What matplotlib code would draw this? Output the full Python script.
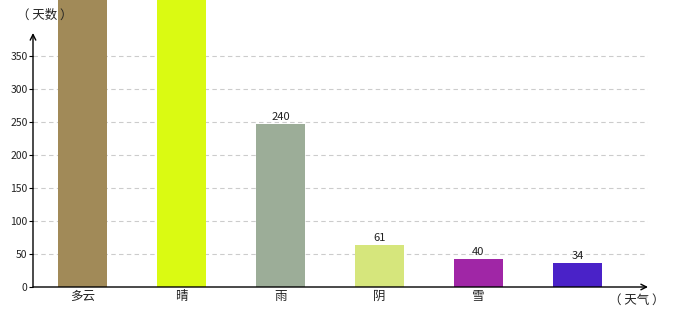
import matplotlib
matplotlib.use("Agg")
import matplotlib.pyplot as plt

plt.rcParams['font.family'] = ['Noto Sans CJK SC', 'DejaVu Sans']

categories = ['多云', '晴', '雨', '阴', '雪', '']
values = [520, 500, 247, 64, 43, 37]
value_labels = ['', '', '240', '61', '40', '34']
colors = ['#A18A58', '#DAFA12', '#9CAD98', '#D6E67C', '#A026A6', '#4A22C8']
yticks = [0, 50, 100, 150, 200, 250, 300, 350]

W, H = 680, 320
fig = plt.figure(figsize=(W / 100, H / 100), dpi=100)
left, right, bottom, top = 33, 648, 287, 0
ax = fig.add_axes([left / W, (H - bottom) / H, (right - left) / W, (bottom - top) / H])

ymax = (bottom - top) / (33 / 50)
ax.set_ylim(0, ymax)
ax.set_xlim(-0.5, (right - 82.5) / 99)

x = list(range(len(categories)))
ax.bar(x, values, width=49 / 99, color=colors, zorder=2)

for xi, v, lab in zip(x, values, value_labels):
    if lab:
        ax.text(xi, v + 3, lab, ha='center', va='bottom', fontsize=8, color='#222222', zorder=3)

for t in yticks[1:]:
    ax.axhline(t, color='#cccccc', lw=0.8, ls=(0, (4, 3)), zorder=1)

for s in ['top', 'right', 'left', 'bottom']:
    ax.spines[s].set_visible(False)

# axes with arrows
y_arrow_top = (bottom - 33) / (33 / 50)
ax.annotate('', xy=(-0.5, y_arrow_top), xytext=(-0.5, 0),
            arrowprops=dict(arrowstyle='->', color='black', lw=1.0, shrinkA=0, shrinkB=0),
            annotation_clip=False)
ax.annotate('', xy=((648 - 82.5) / 99, 0), xytext=(-0.5, 0),
            arrowprops=dict(arrowstyle='->', color='black', lw=1.0, shrinkA=0, shrinkB=0),
            annotation_clip=False)

ax.set_yticks(yticks)
ax.set_yticklabels([str(t) for t in yticks], fontsize=7.5, color='#222222')
ax.tick_params(axis='y', length=3, width=0.8, pad=1)
ax.set_xticks(x)
ax.set_xticklabels(categories, fontsize=9, color='#222222')
ax.tick_params(axis='x', length=0, pad=2)

fig.text(17 / W, 1 - 15 / H, '（ 天数 ）', fontsize=9, va='center', ha='left', color='#222222')
fig.text(609 / W, 1 - 300 / H, '（ 天气 ）', fontsize=9, va='center', ha='left', color='#222222')

fig.savefig('out.png', dpi=100)
